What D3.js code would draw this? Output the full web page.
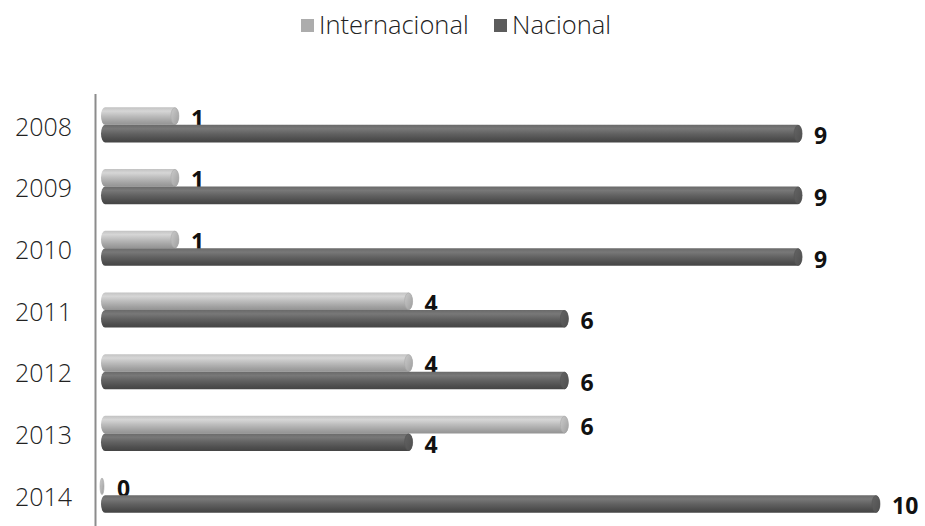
<!DOCTYPE html>
<html>
<head>
<meta charset="utf-8">
<script src="https://cdn.jsdelivr.net/npm/d3@7"></script>
<style>
  html, body { margin: 0; padding: 0; background: #fff; }
  svg { display: block; }
  text { font-family: "Open Sans", "Noto Sans", sans-serif; }
</style>
</head>
<body>
<svg id="chart" width="925" height="526"></svg>
<script>
// Publications per year, split by scope
const years = ["2008", "2009", "2010", "2011", "2012", "2013", "2014"];
const seriesNames = ["Internacional", "Nacional"];
const internacional = [1, 1, 1, 4, 4, 6, 0];
const nacional = [9, 9, 9, 6, 6, 4, 10];
const xDomain = [0, 10];

const seriesValues = { Internacional: internacional, Nacional: nacional };
const rows = years.map((y, i) => ({
  year: y,
  values: seriesNames.map(s => ({ series: s, value: seriesValues[s][i] }))
}));

const svg = d3.select("#chart");
const W = 925, H = 526;

const x = d3.scaleLinear().domain(xDomain).range([101, 880]);
const y0 = d3.scaleBand().domain(years).range([94, 526])
  .paddingInner(0.43).paddingOuter(0.215);
const y1 = d3.scaleBand().domain(seriesNames).range([0, y0.bandwidth()]);

// Cylinder shading: vertical gradients for body and end caps
const defs = svg.append("defs");
const palette = {
  Internacional: { stops: ["#c2c2c2", "#d6d6d6", "#bcbcbc", "#a2a2a2", "#939393"], cap: "#b6b6b6", legend: "#acacac" },
  Nacional: { stops: ["#6a6a6a", "#787878", "#626262", "#4e4e4e", "#444444"], cap: "#5a5a5a", legend: "#5c5c5c" }
};
seriesNames.forEach((s, k) => {
  const g = defs.append("linearGradient")
    .attr("id", "grad" + k).attr("x1", 0).attr("y1", 0).attr("x2", 0).attr("y2", 1);
  const offs = [0, 0.22, 0.5, 0.8, 1];
  palette[s].stops.forEach((c, j) => g.append("stop").attr("offset", offs[j]).attr("stop-color", c));
  const gc = defs.append("linearGradient")
    .attr("id", "cap" + k).attr("x1", 0).attr("y1", 0).attr("x2", 1).attr("y2", 1);
  gc.append("stop").attr("offset", 0).attr("stop-color", d3.color(palette[s].cap).brighter(0.3));
  gc.append("stop").attr("offset", 1).attr("stop-color", d3.color(palette[s].cap).darker(0.4));
});

// Legend
const legend = svg.append("g").attr("class", "legend");
const legendItems = [
  { name: "Internacional", sx: 301, tx: 319 },
  { name: "Nacional", sx: 494, tx: 512 }
];
legendItems.forEach(it => {
  legend.append("rect").attr("x", it.sx).attr("y", 19).attr("width", 13).attr("height", 13)
    .attr("fill", palette[it.name].legend);
  legend.append("text").attr("x", it.tx).attr("y", 25).attr("dy", "0.35em")
    .attr("font-size", 25.5).attr("font-weight", 300).attr("fill", "#222").text(it.name);
});

// Category axis line
svg.append("line").attr("x1", 95.5).attr("x2", 95.5).attr("y1", 94).attr("y2", H)
  .attr("stroke", "#8c8c8c").attr("stroke-width", 2);

// Year labels
svg.append("g").selectAll("text").data(years).join("text")
  .attr("x", 72).attr("y", d => y0(d) + y0.bandwidth() / 2 + 2)
  .attr("dy", "0.35em").attr("text-anchor", "end")
  .attr("font-size", 25).attr("font-weight", 300).attr("fill", "#222")
  .text(d => d);

// Bars
const capRx = 4;
const groups = svg.append("g").selectAll("g").data(rows).join("g")
  .attr("transform", d => `translate(0,${y0(d.year)})`);

const bars = groups.selectAll("g.bar").data(d => d.values).join("g").attr("class", "bar");

bars.append("rect")
  .attr("x", x(0))
  .attr("y", d => y1(d.series))
  .attr("width", d => Math.max(0, x(d.value) - x(0)))
  .attr("height", y1.bandwidth())
  .attr("rx", d => d.value > 0 ? capRx : 1.5)
  .attr("ry", d => y1.bandwidth() / 2)
  .attr("fill", d => `url(#grad${seriesNames.indexOf(d.series)})`);

// Right-hand end cap of each cylinder
bars.append("ellipse")
  .attr("cx", d => x(d.value) - (d.value > 0 ? capRx : -1))
  .attr("cy", d => y1(d.series) + y1.bandwidth() / 2)
  .attr("rx", d => d.value > 0 ? capRx : 2)
  .attr("ry", d => y1.bandwidth() / 2 - 0.5)
  .attr("fill", d => `url(#cap${seriesNames.indexOf(d.series)})`)
  .attr("stroke", d => d3.color(palette[d.series].cap).darker(0.2))
  .attr("stroke-width", 0.6);

// Value labels
bars.append("text")
  .attr("x", d => x(d.value) + (d.value > 0 ? 12 : 16))
  .attr("y", d => y1(d.series) + y1.bandwidth() / 2 + 2.5)
  .attr("dy", "0.35em")
  .attr("font-size", 23).attr("font-weight", "bold").attr("fill", "#111")
  .text(d => d.value);
</script>
</body>
</html>
